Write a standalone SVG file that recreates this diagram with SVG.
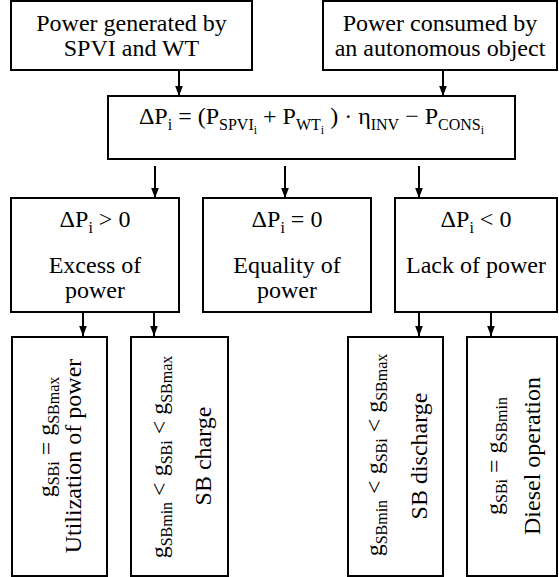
<svg xmlns="http://www.w3.org/2000/svg" width="559" height="577" viewBox="0 0 559 577">
<defs>
<marker id="ah" markerUnits="userSpaceOnUse" markerWidth="10" markerHeight="14" refX="13" refY="5" orient="auto" viewBox="0 0 13 10">
<path d="M0,0 L13,5 L0,10 Z" fill="#000"/>
</marker>
<style>
.box{fill:#fff;stroke:#000;stroke-width:2}
.t{font-family:"Liberation Serif",serif;font-size:24px;fill:#000;text-anchor:middle}
.s{font-size:16px}
.ss{font-size:12px}
.c{stroke:#000;stroke-width:2;fill:none;marker-end:url(#ah)}
</style>
</defs>
<rect width="559" height="577" fill="#fff"/>
<g id="connectors">
<line class="c" x1="179" y1="71" x2="179" y2="96"/>
<line class="c" x1="443" y1="71" x2="443" y2="96"/>
<line class="c" x1="155" y1="166" x2="155" y2="198"/>
<line class="c" x1="285" y1="166" x2="285" y2="198"/>
<line class="c" x1="419" y1="166" x2="419" y2="198"/>
<line class="c" x1="83" y1="313" x2="83" y2="336"/>
<line class="c" x1="154" y1="313" x2="154" y2="336"/>
<line class="c" x1="419" y1="313" x2="419" y2="336"/>
<line class="c" x1="491" y1="313" x2="491" y2="336"/>
</g>
<g id="gen">
<rect class="box" x="11" y="1" width="241" height="69"/>
<text class="t" x="131.5" y="31">Power generated by</text>
<text class="t" x="131.5" y="56">SPVI and WT</text>
</g>
<g id="cons">
<rect class="box" x="323" y="1" width="234" height="69"/>
<text class="t" x="440" y="31">Power consumed by</text>
<text class="t" x="440" y="56">an autonomous object</text>
</g>
<g id="formula">
<rect class="box" x="108" y="96" width="407" height="63"/>
<text class="t" x="311.5" y="124">ΔP<tspan class="s" dy="6">i</tspan><tspan dy="-6"> = (P</tspan><tspan class="s" dy="6">SPVI</tspan><tspan class="ss" dy="4">i</tspan><tspan dy="-10"> + P</tspan><tspan class="s" dy="6">WT</tspan><tspan class="ss" dy="4">i</tspan><tspan dy="-10"> ) · η</tspan><tspan class="s" dy="6">INV</tspan><tspan dy="-6"> − P</tspan><tspan class="s" dy="6">CONS</tspan><tspan class="ss" dy="4">i</tspan></text>
</g>
<g id="excess">
<rect class="box" x="11" y="198" width="168" height="114"/>
<text class="t" x="95" y="227">ΔP<tspan class="s" dy="6">i</tspan><tspan dy="-6"> &gt; 0</tspan></text>
<text class="t" x="95" y="273">Excess of</text>
<text class="t" x="95" y="298">power</text>
</g>
<g id="equal">
<rect class="box" x="203" y="198" width="168" height="114"/>
<text class="t" x="287" y="227">ΔP<tspan class="s" dy="6">i</tspan><tspan dy="-6"> = 0</tspan></text>
<text class="t" x="287" y="273">Equality of</text>
<text class="t" x="287" y="298">power</text>
</g>
<g id="lack">
<rect class="box" x="395" y="198" width="162" height="114"/>
<text class="t" x="476" y="227">ΔP<tspan class="s" dy="6">i</tspan><tspan dy="-6"> &lt; 0</tspan></text>
<text class="t" x="476" y="273">Lack of power</text>
</g>
<g id="util">
<rect class="box" x="12" y="337" width="95" height="239"/>
<text class="t" transform="translate(54,437) rotate(-90)">g<tspan class="s" dy="5">SBi</tspan><tspan dy="-5"> = g</tspan><tspan class="s" dy="5">SBmax</tspan></text>
<text class="t" transform="translate(81,456) rotate(-90)">Utilization of power</text>
</g>
<g id="charge">
<rect class="box" x="131" y="337" width="97" height="239"/>
<text class="t" transform="translate(167,457) rotate(-90)">g<tspan class="s" dy="5">SBmin</tspan><tspan dy="-5"> &lt; g</tspan><tspan class="s" dy="5">SBi</tspan><tspan dy="-5"> &lt; g</tspan><tspan class="s" dy="5">SBmax</tspan></text>
<text class="t" transform="translate(211,456) rotate(-90)">SB charge</text>
</g>
<g id="discharge">
<rect class="box" x="348" y="337" width="95" height="239"/>
<text class="t" transform="translate(382,455) rotate(-90)">g<tspan class="s" dy="5">SBmin</tspan><tspan dy="-5"> &lt; g</tspan><tspan class="s" dy="5">SBi</tspan><tspan dy="-5"> &lt; g</tspan><tspan class="s" dy="5">SBmax</tspan></text>
<text class="t" transform="translate(427,456) rotate(-90)">SB discharge</text>
</g>
<g id="diesel">
<rect class="box" x="467" y="337" width="90" height="239"/>
<text class="t" transform="translate(502,456) rotate(-90)">g<tspan class="s" dy="5">SBi</tspan><tspan dy="-5"> = g</tspan><tspan class="s" dy="5">SBmin</tspan></text>
<text class="t" transform="translate(540,456) rotate(-90)">Diesel operation</text>
</g>
</svg>
